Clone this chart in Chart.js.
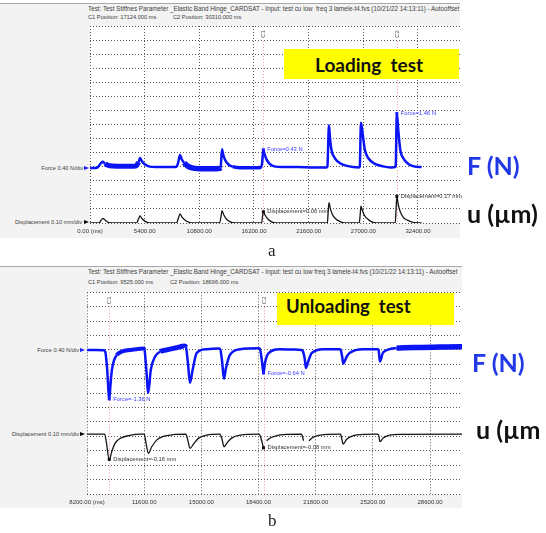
<!DOCTYPE html>
<html>
<head>
<meta charset="utf-8">
<script src="https://cdn.jsdelivr.net/npm/chart.js@4.4.1/dist/chart.umd.min.js"></script>
<style>
  body { margin: 0; background: #fff; }
  #fig { position: relative; width: 546px; height: 533px; overflow: hidden; font-family: "Liberation Sans", Arial, sans-serif; }
  .app { position: absolute; left: 0; background: #f3f3f3; border-top: 1px solid #a8a8a8; }
  .txt { position: absolute; white-space: nowrap; font-size: 5.7px; line-height: 7px; color: #404040; }
  .hd { font-size: 6.3px; }
  .ch { text-align: right; }
  .arrow { position: absolute; width: 0; height: 0; border-top: 2.5px solid transparent; border-bottom: 2.5px solid transparent; border-left: 5px solid #000; }
  .tag { position: absolute; background: #ffff00; }
  .tag span { position: absolute; font-family: Lato, sans-serif; font-weight: bold; line-height: 1; color: #111; white-space: nowrap; }
  .unit { position: absolute; font-family: Lato, sans-serif; font-weight: bold; line-height: 1; white-space: nowrap; font-size: 25px; }
  .sub { position: absolute; font-family: "Liberation Serif", serif; font-size: 17px; line-height: 1; color: #222; }
  canvas { position: absolute; left: 0; }
</style>
</head>
<body>
<div id="fig">
  <!-- panel a -->
  <div class="app" style="top:3px;width:460px;height:234px"></div>
  <div class="txt hd" style="left:88px;top:4.5px">Test: Test Stiffnes Parameter _Elastic Band Hinge_CARDSAT - Input: test cu low&nbsp; freq 3 lamele-t4.fvs (10/21/22 14:13:11) - Autooffset</div>
  <div class="txt" style="left:88px;top:14px">C1 Position: 17124.000 ms</div>
  <div class="txt" style="left:173px;top:14px">C2 Position: 30310.000 ms</div>
  <div class="txt ch" style="right:463px;top:164.5px">Force 0.40 N/div</div>
  <div class="arrow" style="left:84px;top:165.5px;border-left-color:#1a1aff"></div>
  <div class="txt ch" style="right:464px;top:218.5px">Displacement 0.10 mm/div</div>
  <div class="arrow" style="left:84px;top:220px"></div>

  <!-- panel b -->
  <div class="app" style="top:266px;width:462px;height:241px"></div>
  <div class="txt hd" style="left:88px;top:268px">Test: Test Stiffnes Parameter _Elastic Band Hinge_CARDSAT - Input: test cu low freq 3 lamele-t4.fvs (10/21/22 14:13:11) - Autooffset</div>
  <div class="txt" style="left:88px;top:278.5px">C1 Position: 9525.000 ms</div>
  <div class="txt" style="left:170px;top:278.5px">C2 Position: 18696.000 ms</div>
  <div class="txt ch" style="right:467px;top:346.5px">Force 0.40 N/div</div>
  <div class="arrow" style="left:80px;top:347.5px;border-left-color:#1a1aff"></div>
  <div class="txt ch" style="right:467px;top:430.5px">Displacement 0.10 mm/div</div>
  <div class="arrow" style="left:80px;top:431.5px"></div>

  <canvas id="scope-a" width="546" height="245" style="top:0"></canvas>
  <canvas id="scope-b" width="546" height="250" style="top:262px"></canvas>

  <div class="tag" style="left:284px;top:49px;width:175px;height:30px"><span style="font-size:19px;left:31px;top:5.7px">Loading&nbsp; test</span></div>
  <div class="tag" style="left:277px;top:293px;width:177px;height:32px"><span style="font-size:18.5px;left:9px;top:3.6px">Unloading&nbsp; test</span></div>

  <div class="unit" style="left:467px;top:153px;color:#2038e6">F (N)</div>
  <div class="unit" style="left:467px;top:201px;color:#111">u (µm)</div>
  <div class="unit" style="left:472px;top:350px;color:#2038e6">F (N)</div>
  <div class="unit" style="left:476px;top:417px;color:#111">u (µm</div>

  <div class="sub" style="left:268px;top:242px">a</div>
  <div class="sub" style="left:268px;top:512px">b</div>
</div>

<script>
// ==========================================
// 1. DATOS
// ==========================================

// --- a: Loading test ---
const ticksA = [0, 5400, 10800, 16200, 21600, 27000, 32400];
const cursorsA = [17124, 30310];
const forceMarkA = [0.43, 1.46];
const dispMarkA = [0.06, 0.17];

const tForceA = [
  0, 300, 700, 900, 1100, 1284, 1500, 1800, 2300, 3000, 4000, 4500,
  4800, 4939, 5100, 5400, 5800, 6500, 7500, 8400,
  8600, 8750, 8890, 9050, 9300, 9700, 10200, 11000, 12000, 12700,
  12900, 13039, 13150, 13350, 13650, 14100, 14800, 16000, 16900,
  17000, 17124, 17250, 17450, 17750, 18200, 19000, 20500, 22000, 23350,
  23450, 23606, 23700, 23850, 24200, 24700, 25300, 26000, 26550,
  26650, 26767, 26930, 27150, 27500, 28150, 28950, 29700, 30150,
  30200, 30310, 30450, 30650, 30950, 31450, 32000, 32760
];
const forceA = [
  -0.09, -0.09, -0.08, -0.02, 0.06, 0.09, 0.03, -0.01, -0.03, -0.04, -0.04, -0.03,
  0.08, 0.20, 0.12, 0.02, -0.04, -0.06, -0.06, -0.06,
  -0.03, 0.12, 0.28, 0.17, 0.06, -0.04, -0.09, -0.11, -0.11, -0.10,
  -0.08, 0.45, 0.30, 0.14, 0.02, -0.05, -0.08, -0.08, -0.07,
  0.05, 0.43, 0.30, 0.15, 0.03, -0.04, -0.06, -0.06, -0.07, -0.07,
  -0.05, 1.13, 0.80, 0.43, 0.19, 0.05, -0.02, -0.06, -0.07,
  -0.04, 1.20, 0.90, 0.43, 0.19, 0.03, -0.04, -0.07, -0.06,
  -0.02, 1.46, 1.00, 0.43, 0.19, 0.03, -0.04, -0.06
];

const tDispA = [
  0, 900, 1100, 1284, 1500, 1800, 2200,
  4600, 4800, 4939, 5150, 5500, 5900,
  8550, 8750, 8890, 9100, 9400, 9800, 10200,
  12800, 12950, 13039, 13200, 13450, 13800, 14300,
  16950, 17050, 17124, 17300, 17550, 17900, 18400,
  23450, 23520, 23606, 23750, 23950, 24250, 24700, 25200,
  26600, 26690, 26767, 26900, 27100, 27400, 27800, 28300,
  30150, 30230, 30310, 30450, 30650, 30950, 31350, 31900, 32760
];
const dispA = [
  -0.02, -0.02, 0.0, 0.013, 0.0, -0.015, -0.02,
  -0.02, 0.01, 0.03, 0.01, -0.01, -0.02,
  -0.02, 0.02, 0.044, 0.02, 0.0, -0.015, -0.02,
  -0.02, 0.03, 0.067, 0.04, 0.01, -0.01, -0.02,
  -0.02, 0.03, 0.06, 0.035, 0.01, -0.01, -0.02,
  -0.02, 0.05, 0.124, 0.08, 0.04, 0.01, -0.01, -0.02,
  -0.02, 0.04, 0.10, 0.07, 0.035, 0.01, -0.01, -0.02,
  -0.02, 0.07, 0.17, 0.11, 0.06, 0.02, 0.0, -0.015, -0.02
];

// --- b: Unloading test ---
const ticksB = [8200, 11600, 15000, 18400, 21800, 25200, 28600];
const cursorsB = [9525, 18696];
const forceMarkB = [-1.36, -0.64];
const dispMarkB = [-0.16, -0.08];

const tForceB = [
  8200, 8700, 9200, 9300, 9400, 9525, 9600, 9680, 9800, 9970, 10250, 10600, 11100, 11550,
  11620, 11720, 11844, 11990, 12240, 12550, 12940, 13500, 14000,
  14080, 14200, 14322, 14480, 14720, 15320, 16010,
  16110, 16230, 16343, 16460, 16700, 17300, 18380,
  18480, 18600, 18696, 18780, 18980, 19670, 20500, 20960,
  21050, 21150, 21217, 21350, 21560, 22250, 23240,
  23300, 23380, 23435, 23640, 23830, 24620, 25480,
  25540, 25616, 25810, 26610, 27990, 29180, 30370, 30500
];
const forceB = [
  0.00, 0.00, -0.01, -0.08, -0.55, -1.36, -0.95, -0.56, -0.30, -0.14, -0.05, -0.01, 0.02, 0.04,
  0.00, -0.50, -1.19, -0.56, -0.19, -0.05, 0.00, 0.06, 0.11,
  0.08, -0.35, -0.91, -0.56, -0.09, 0.02, 0.04,
  0.03, -0.30, -0.80, -0.51, -0.14, 0.02, 0.05,
  0.03, -0.30, -0.64, -0.37, -0.10, 0.02, 0.01, 0.00,
  -0.05, -0.25, -0.50, -0.33, -0.09, 0.02, 0.02,
  -0.02, -0.20, -0.38, -0.19, -0.08, 0.02, 0.02,
  0.00, -0.32, -0.07, 0.05, 0.07, 0.08, 0.09, 0.09
];

const tDispB = [
  8200, 9250, 9350, 9525, 9670, 9860, 10160, 10750, 11350,
  11600, 11700, 11844, 12050, 12340, 12740, 13330,
  14080, 14200, 14322, 14560, 14820, 15320,
  16100, 16230, 16343, 16560, 16800, 17300,
  18440, 18560, 18696, 18790, 18880, 19150, 19500, 19870,
  20950, 21080, 21250, 21400, 21600, 21900, 22300,
  23250, 23300, 23435, 23640, 23830, 24230,
  25450, 25540, 25616, 25810, 26200, 26800, 30500
];
const dispB = [
  0.015, 0.015, -0.04, -0.165, -0.107, -0.05, -0.015, 0.007, 0.015,
  0.015, -0.04, -0.118, -0.072, -0.026, 0.0, 0.012,
  0.015, -0.03, -0.083, -0.049, -0.014, 0.008,
  0.015, -0.02, -0.072, -0.04, -0.012, 0.008,
  0.015, -0.02, -0.08, null, -0.03, -0.008, 0.006, 0.012,
  0.015, -0.03, null, -0.03, -0.01, 0.005, 0.012,
  0.015, 0.01, -0.053, -0.02, -0.005, 0.01,
  0.015, 0.012, -0.037, -0.012, 0.008, 0.014, 0.015
];

// ==========================================
// 2. PLUGIN: fondo blanco, cursores y marcas
// ==========================================

const FONT = '"Liberation Sans", Arial, sans-serif';

const scopePlugin = {
  id: 'scope',
  beforeDraw(chart) {
    const { ctx, chartArea: a } = chart;
    ctx.save();
    ctx.fillStyle = '#ffffff';
    ctx.fillRect(a.left, a.top, a.right - a.left, a.bottom - a.top);
    ctx.restore();
  },
  beforeDatasetsDraw(chart, args, opts) {
    const { ctx, chartArea: a } = chart;
    const xs = chart.scales.x;
    ctx.save();
    opts.cursors.forEach((t, i) => {
      const x = Math.round(xs.getPixelForValue(t)) + 0.5;
      // linea rosa punteada
      ctx.strokeStyle = '#f09a9a';
      ctx.lineWidth = 1;
      ctx.setLineDash([1, 2]);
      ctx.beginPath();
      ctx.moveTo(x, a.top + 15);
      ctx.lineTo(x, a.bottom);
      ctx.stroke();
      // etiqueta C1 / C2 vertical
      ctx.setLineDash([]);
      ctx.translate(x, a.top + 8);
      ctx.rotate(-Math.PI / 2);
      ctx.fillStyle = '#555';
      ctx.font = '6px ' + FONT;
      ctx.textAlign = 'center';
      ctx.textBaseline = 'middle';
      ctx.fillText('C' + (i + 1), 0, 0);
      ctx.setTransform(1, 0, 0, 1, 0, 0);
    });
    ctx.restore();
  },
  afterDatasetsDraw(chart, args, opts) {
    const { ctx } = chart;
    const xs = chart.scales.x;
    ctx.save();
    ctx.font = '5.8px ' + FONT;
    ctx.textBaseline = 'middle';
    ctx.textAlign = 'left';
    opts.cursors.forEach((t, i) => {
      const x = xs.getPixelForValue(t);
      const yf = chart.scales.yF.getPixelForValue(opts.forceMarks[i]);
      const yd = chart.scales.yD.getPixelForValue(opts.dispMarks[i]);
      ctx.fillStyle = '#1a1aff';
      ctx.fillRect(x - 1.5, yf - 1.5, 3, 3);
      ctx.fillStyle = '#3a3aff';
      ctx.fillText('Force=' + opts.forceMarks[i].toFixed(2) + ' N', x + 4, yf);
      ctx.fillStyle = '#111';
      ctx.fillRect(x - 1.5, yd - 1.5, 3, 3);
      ctx.fillStyle = '#333';
      ctx.fillText('Displacement=' + opts.dispMarks[i].toFixed(2) + ' mm', x + 4, yd);
    });
    ctx.restore();
  }
};

// ==========================================
// 3. GRAFICOS
// ==========================================

function toPoints(ts, vs) {
  return ts.map((t, i) => ({ x: t, y: vs[i] }));
}

function buildScope(canvasId, p) {
  const ctx = document.getElementById(canvasId);
  return new Chart(ctx, {
    type: 'line',
    data: {
      datasets: [{
        label: 'Displacement',
        data: toPoints(p.tDisp, p.disp),
        yAxisID: 'yD',
        borderColor: '#151515',
        borderWidth: 1.3,
        pointRadius: 0,
        cubicInterpolationMode: 'monotone',
        spanGaps: false
      }, {
        label: 'Force',
        data: toPoints(p.tForce, p.force),
        yAxisID: 'yF',
        borderColor: '#0a14f5',
        borderWidth: 2.5,
        pointRadius: 0,
        cubicInterpolationMode: 'monotone',
        segment: {
          borderWidth: c => {
            const t = c.p0.parsed.x;
            const hit = p.noisy.find(r => t >= r[0] && t < r[1]);
            return hit ? hit[2] : 2.5;
          }
        }
      }]
    },
    options: {
      responsive: false,
      animation: false,
      events: [],
      layout: { padding: p.padding },
      plugins: {
        legend: { display: false },
        tooltip: { enabled: false },
        scope: { cursors: p.cursors, forceMarks: p.forceMarks, dispMarks: p.dispMarks }
      },
      scales: {
        x: {
          type: 'linear',
          min: p.xMin,
          max: p.xMax,
          afterBuildTicks: s => { s.ticks = p.ticks.map(v => ({ value: v })); },
          afterFit: s => { s.height = 14; },
          grid: { color: '#5a5a5a', lineWidth: 1, drawTicks: false },
          border: { display: false, dash: [1, 2] },
          ticks: {
            autoSkip: false,
            maxRotation: 0,
            padding: 5,
            color: '#333',
            font: { family: FONT, size: 6 },
            callback: (v, i) => i === 0 ? v.toFixed(2) + ' (ms)' : v.toFixed(2)
          }
        },
        g: {
          type: 'linear',
          position: 'left',
          min: 0,
          max: 14,
          afterFit: s => { s.width = 0; },
          grid: { color: '#5a5a5a', lineWidth: 1, drawTicks: false },
          border: { display: false, dash: [1, 2] },
          ticks: { display: false, stepSize: 1 }
        },
        yF: { type: 'linear', display: false, min: p.fMin, max: p.fMax },
        yD: { type: 'linear', display: false, min: p.dMin, max: p.dMax }
      }
    },
    plugins: [scopePlugin]
  });
}

buildScope('scope-a', {
  tForce: tForceA, force: forceA, tDisp: tDispA, disp: dispA,
  ticks: ticksA, xMin: 0, xMax: 36550,
  fMin: -1.65, fMax: 3.95, dMin: -0.02, dMax: 1.38,
  cursors: cursorsA, forceMarks: forceMarkA, dispMarks: dispMarkA,
  noisy: [[1400, 4700, 5], [9300, 12800, 5.5], [13800, 16900, 3.5]],
  padding: { left: 90, right: 86, top: 26, bottom: 8 }
});

buildScope('scope-b', {
  tForce: tForceB, force: forceB, tDisp: tDispB, disp: dispB,
  ticks: ticksB, xMin: 8200, xMax: 30500,
  fMin: -4.0, fMax: 1.6, dMin: -0.4, dMax: 1.0,
  cursors: cursorsB, forceMarks: forceMarkB, dispMarks: dispMarkB,
  noisy: [[9900, 11560, 4], [12300, 14060, 5], [25900, 30600, 5.5]],
  padding: { left: 87, right: 84, top: 30.3, bottom: 4 }
});
</script>
</body>
</html>
